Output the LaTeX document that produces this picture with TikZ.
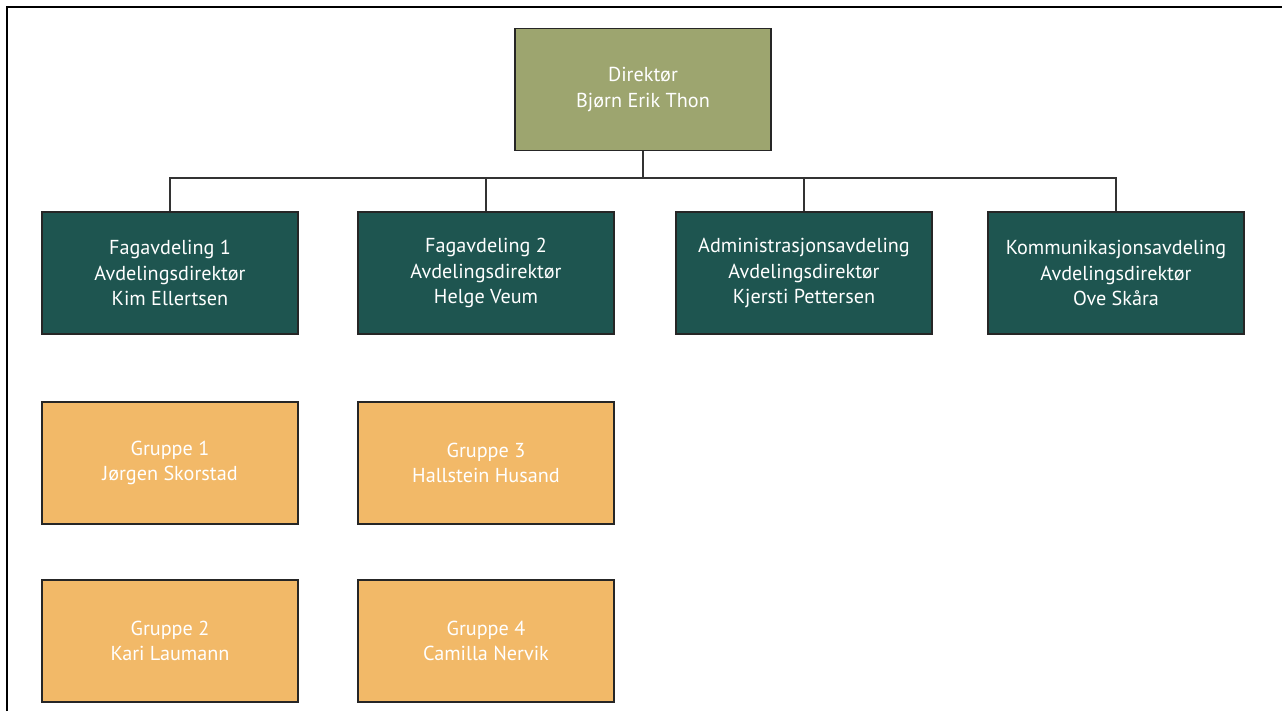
\documentclass[tikz,border=0pt]{standalone}
\usepackage{fontspec}
\setmainfont{PT Sans}
\usepackage{tikz}
\usetikzlibrary{positioning}

\definecolor{olive}{RGB}{157,165,111}
\definecolor{teal}{RGB}{30,85,80}
\definecolor{sand}{RGB}{242,185,104}

\tikzset{
  unit/.style={draw=black!85, line width=0.9pt, text=white, align=center,
               minimum width=5.12cm, minimum height=2.44cm, inner sep=0pt,
               font=\fontsize{11.5}{14.5}\selectfont},
  topbox/.style={unit, fill=olive},
  deptbox/.style={unit, fill=teal},
  groupbox/.style={unit, fill=sand},
  link/.style={draw=black!80, line width=0.6pt}
}

\begin{document}
\begin{tikzpicture}[x=0.02cm, y=-0.02cm]
	\useasboundingbox (0,0) rectangle (1282,711);
	\draw[line width=1.7pt] (7,711) -- (7,7) -- (1282,7);

	\begin{scope}
		\node[topbox] (dir) at (643,89.5) {Direktør\\Bjørn Erik Thon};
		\node[deptbox] (fag1) at (170,273) {Fagavdeling 1\\Avdelingsdirektør\\Kim Ellertsen};
		\node[deptbox] (fag2) at (486,273) {Fagavdeling 2\\Avdelingsdirektør\\Helge Veum};
		\node[deptbox] (adm) at (804,273) {Administrasjonsavdeling\\Avdelingsdirektør\\Kjersti Pettersen};
		\node[deptbox] (kom) at (1116,273) {Kommunikasjonsavdeling\\Avdelingsdirektør\\Ove Skåra};
		\node[groupbox] (g1) at (170,463) {Gruppe 1\\Jørgen Skorstad};
		\node[groupbox] (g3) at (486,463) {Gruppe 3\\Hallstein Husand};
		\node[groupbox] (g2) at (170,641) {Gruppe 2\\Kari Laumann};
		\node[groupbox] (g4) at (486,641) {Gruppe 4\\Camilla Nervik};
	\end{scope}

	\coordinate (bus) at (643,178);
	\path[link] (dir.south) -- (bus);
	\path[link] (bus) -| (fag1.north);
	\path[link] (bus) -| (fag2.north);
	\path[link] (bus) -| (adm.north);
	\path[link] (bus) -| (kom.north);
\end{tikzpicture}
\end{document}
